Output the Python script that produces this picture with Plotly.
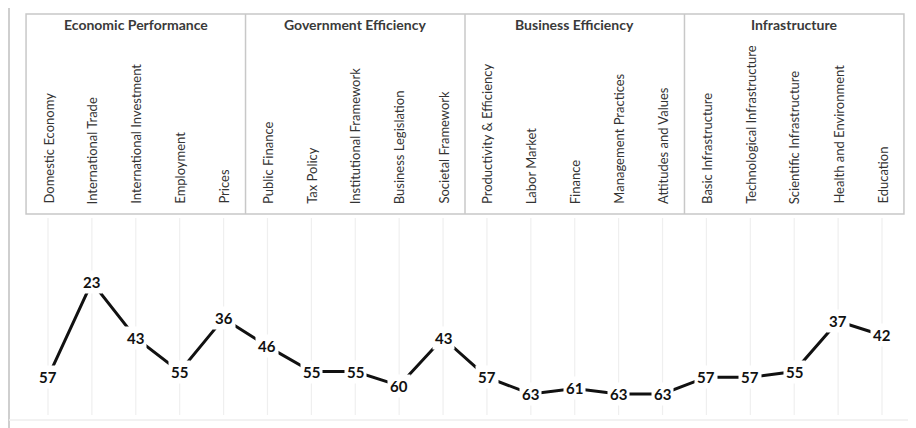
import plotly.graph_objects as go

groups = ["Economic Performance", "Government Efficiency", "Business Efficiency", "Infrastructure"]
categories = [
    "Domestic Economy", "International Trade", "International Investment", "Employment", "Prices",
    "Public Finance", "Tax Policy", "Institutional Framework", "Business Legislation", "Societal Framework",
    "Productivity & Efficiency", "Labor Market", "Finance", "Management Practices", "Attitudes and Values",
    "Basic Infrastructure", "Technological Infrastructure", "Scientific Infrastructure", "Health and Environment", "Education",
]
ranks = [57, 23, 43, 55, 36, 46, 55, 55, 60, 43, 57, 63, 61, 63, 63, 57, 57, 55, 37, 42]

OFF = 8  # default page body margin
W, H = 916 - OFF, 428 - OFF
n = len(categories)
per_group = n // len(groups)
xs = list(range(n))

def py(p):
    return 1 - (p - OFF) / H

def px(p):
    return (p - OFF) / W

fig = go.Figure()
fig.add_trace(go.Scatter(x=xs, y=ranks, mode="lines",
                         line=dict(color="#111111", width=3), hoverinfo="skip",
                         showlegend=False))

shapes = []
for i in xs:
    shapes.append(dict(type="line", xref="x", yref="paper", x0=i, x1=i,
                       y0=py(415), y1=py(218), line=dict(color="#efefef", width=1.2), layer="below"))
shapes.append(dict(type="rect", xref="x", yref="paper", x0=-0.5, x1=n - 0.5,
                   y0=py(214), y1=py(14), line=dict(color="#c8c8c8", width=1.5)))
for g in range(1, len(groups)):
    xd = g * per_group - 0.5
    shapes.append(dict(type="line", xref="x", yref="paper", x0=xd, x1=xd,
                       y0=py(214), y1=py(14), line=dict(color="#c8c8c8", width=1.5)))
shapes.append(dict(type="line", xref="paper", yref="paper", x0=px(8), x1=1,
                   y0=py(7), y1=py(7), line=dict(color="#cfcfcf", width=2)))
shapes.append(dict(type="line", xref="paper", yref="paper", x0=px(9), x1=px(9),
                   y0=0, y1=py(7), line=dict(color="#cfcfcf", width=2)))
shapes.append(dict(type="line", xref="paper", yref="paper", x0=px(9), x1=1,
                   y0=py(420), y1=py(420), line=dict(color="#eeeeee", width=1.5)))

annotations = []
for g, name in enumerate(groups):
    annotations.append(dict(x=g * per_group + (per_group - 1) / 2, xref="x", y=py(25), yref="paper",
                            text="<b>" + name + "</b>", showarrow=False,
                            font=dict(family="Lato", size=14, color="#3a3a3a"),
                            xanchor="center", yanchor="middle"))
for i, c in enumerate(categories):
    annotations.append(dict(x=i, xref="x", y=py(206), yref="paper", text=c, showarrow=False,
                            textangle=-90, font=dict(family="Lato", size=13, color="#333333"),
                            xanchor="center", yanchor="bottom"))
for i, r in enumerate(ranks):
    annotations.append(dict(x=i, y=r, xref="x", yref="y", text="<b>%d</b>" % r, showarrow=False,
                            font=dict(family="Lato", size=15, color="#111111"),
                            bgcolor="white", borderpad=2, xanchor="center", yanchor="middle"))

sx = 834 / 19
x0 = -(48 - OFF) / sx
x1 = x0 + W / sx
sy = 2.8
ytop = 23 - (282 - OFF) / sy
ybot = ytop + H / sy

fig.update_layout(
    width=W, height=H, margin=dict(l=0, r=0, t=0, b=0),
    paper_bgcolor="white", plot_bgcolor="white",
    xaxis=dict(range=[x0, x1], visible=False, fixedrange=True),
    yaxis=dict(range=[ybot, ytop], visible=False, fixedrange=True),
    shapes=shapes, annotations=annotations, showlegend=False,
)
fig.write_html("out.html")
